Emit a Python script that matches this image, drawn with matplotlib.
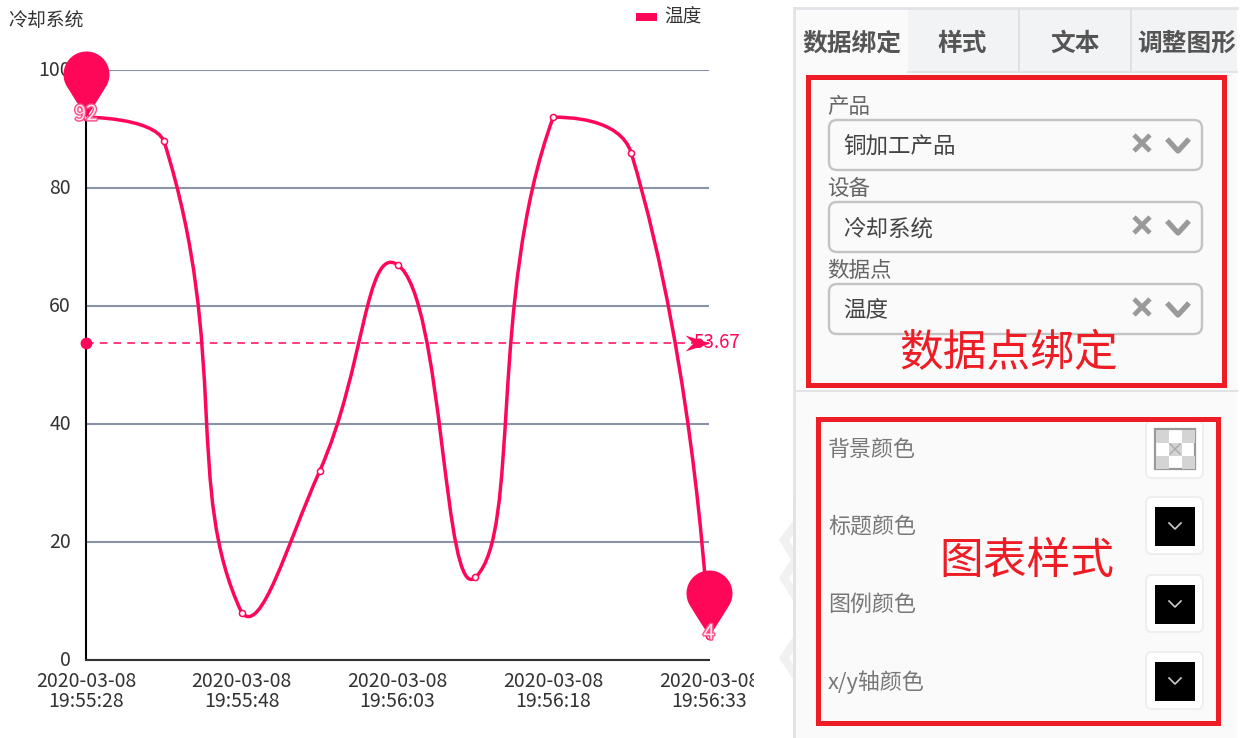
import numpy as np
import matplotlib

matplotlib.use("Agg")
import matplotlib.pyplot as plt
from matplotlib import patheffects as pe
from matplotlib.patches import FancyBboxPatch, PathPatch, Rectangle
from matplotlib.path import Path
from matplotlib.transforms import Bbox

plt.rcParams["font.family"] = ["Noto Sans CJK SC", "DejaVu Sans"]

# chart data
title = "冷却系统"
series_name = "温度"
values = [92, 88, 8, 32, 67, 14, 92, 86, 4]
tick_idx = [0, 2, 4, 6, 8]
tick_labels = ["2020-03-08\n19:55:28", "2020-03-08\n19:55:48", "2020-03-08\n19:56:03",
               "2020-03-08\n19:56:18", "2020-03-08\n19:56:33"]
y_ticks = [0, 20, 40, 60, 80, 100]

# side panel text
tabs = ["数据绑定", "样式", "文本", "调整图形"]
select_labels = ["产品", "设备", "数据点"]
select_values = ["铜加工产品", "冷却系统", "温度"]
style_labels = ["背景颜色", "标题颜色", "图例颜色", "x/y轴颜色"]

PINK = "#ff0759"
RED = "#ee1c25"
GRID = "#8a93a6"
DPI = 100
PX = 72 / DPI
PANEL_R = 1237


def smooth_path(ax, ys, smooth=0.5):
    # bezier smoothing in pixel space, same idea as echarts line smooth
    pts = ax.transData.transform(np.column_stack([np.arange(len(ys)), ys]))
    lo, hi = pts.min(axis=0), pts.max(axis=0)
    verts = [pts[0]]
    codes = [Path.MOVETO]
    out_cp = []
    in_cp = []
    for i, p in enumerate(pts):
        if i == 0 or i == len(pts) - 1:
            # end points pull the curve straight at themselves
            out_cp.append(p)
            in_cp.append(p)
            continue
        prev = pts[i - 1]
        nxt = pts[i + 1]
        v = nxt - prev
        d0 = np.linalg.norm(p - prev)
        d1 = np.linalg.norm(nxt - p)
        r = d1 / (d0 + d1)
        out_cp.append(np.clip(p + v * smooth * r, lo, hi))
        in_cp.append(np.clip(p - v * smooth * (1 - r), lo, hi))
    for i in range(len(pts) - 1):
        verts += [out_cp[i], in_cp[i + 1], pts[i + 1]]
        codes += [Path.CURVE4] * 3
    return Path(ax.transData.inverted().transform(np.array(verts)), codes)


def pin_marker(r=23, h=66):
    # tip at the origin, y up, sizes in pixels
    cy = h - r
    arc = Path.arc(-30, 210)
    v = arc.vertices * r + [0, cy]
    c = arc.codes.copy()
    verts = np.vstack([v, [[-r * 0.5, cy - r * 1.1]], [[0, 0]], [[r * 0.5, cy - r * 1.1]], [v[0]], [v[0]]])
    codes = np.concatenate([c, [Path.CURVE3, Path.CURVE3, Path.CURVE3, Path.CURVE3, Path.CLOSEPOLY]])
    return Path(verts, codes)


def round_box(ax, x0, y0, x1, y1, fc, ec, lw, rad=8, **kw):
    ax.add_patch(FancyBboxPatch((x0 + rad, y0 + rad), x1 - x0 - 2 * rad, y1 - y0 - 2 * rad,
                                boxstyle=f"round,pad={rad},rounding_size={rad}",
                                fc=fc, ec=ec, lw=lw * PX, **kw))


fig = plt.figure(figsize=(1243 / DPI, 738 / DPI), dpi=DPI, facecolor="white")

# full figure pixel axes for the settings panel
ui = fig.add_axes([0, 0, 1, 1], zorder=0)
ui.set_xlim(0, 1243)
ui.set_ylim(738, 0)
ui.axis("off")

ax = fig.add_axes([86 / 1243, 1 - 660 / 738, 623 / 1243, 590 / 738], zorder=2)
ax.patch.set_alpha(0)
ax.set_xlim(0, len(values) - 1)
ax.set_ylim(0, 100)
ax.set_yticks(y_ticks)
ax.set_xticks(tick_idx, tick_labels)
ax.tick_params(length=0, labelsize=14, labelcolor="#333333")
ax.tick_params(axis="y", pad=10.8)
ax.tick_params(axis="x", pad=8)
ax.grid(axis="y", color=GRID, lw=1.5)
ax.set_axisbelow(True)
for name in ["top", "right"]:
    ax.spines[name].set_visible(False)
ax.spines["left"].set_linewidth(1.5)
ax.spines["bottom"].set_linewidth(1.5)
ax.spines["bottom"].set_color("#333333")
for lab in ax.get_yticklabels():
    lab.set_va("center")
for lab in ax.get_xticklabels():
    lab.set_linespacing(0.95)
    lab.set_clip_box(Bbox.from_extents(0, 0, 754, 738))
    lab.set_clip_on(True)

x = np.arange(len(values))
mean = np.mean(values)

ax.add_patch(PathPatch(smooth_path(ax, values), fc="none", ec=PINK, lw=2.5, clip_on=False, zorder=3))
ax.plot(x, values, ls="none", marker="o", ms=4.4, mfc="white", mec=PINK, mew=1.1, clip_on=False, zorder=4)

# average line
ax.plot([0, x[-1]], [mean, mean], color=PINK, lw=1.1, ls=(0, (5, 4)), zorder=3)
ax.plot(0, mean, marker="o", ms=8.5, color=PINK, mew=0, clip_on=False, zorder=5)
arrow = Path([(1, 0), (-24, 8), (-16, 0), (-24, -8), (1, 0)],
             [Path.MOVETO, Path.LINETO, Path.LINETO, Path.LINETO, Path.CLOSEPOLY])
ax.plot(x[-1], mean, marker=arrow, ms=2 * 24 * PX, color=PINK, mew=0, clip_on=False, zorder=6)
ax.annotate(f"{mean:.2f}", (x[-1], mean), xytext=(-16 * PX, 1 * PX), textcoords="offset points",
            color=PINK, fontsize=13.5, va="center", ha="left", annotation_clip=False, zorder=5)

# max and min pins, white digits with a pink edge
for i in [int(np.argmax(values)), int(np.argmin(values))]:
    ax.plot(x[i], values[i], marker=pin_marker(), ms=2 * 66 * PX, color=PINK, mew=0, clip_on=False, zorder=7)
    ax.annotate(str(values[i]), (x[i], values[i]), xytext=(0, 3 * PX), textcoords="offset points",
                color="#ffe6ee", fontsize=15, ha="center", va="center", annotation_clip=False, zorder=8,
                path_effects=[pe.withStroke(linewidth=2, foreground="#ff4d85")])

# title and legend
ui.text(8, 20, title, fontsize=13.6, color="#333333", va="center", ha="left")
ui.add_patch(Rectangle((636, 13), 21, 8, fc=PINK, ec="none"))
ui.text(664, 18, series_name, fontsize=13.4, color="#333333", va="center", ha="left")

# settings panel background
ui.add_patch(Rectangle((795, 9), PANEL_R - 795, 729, fc="#fafafa", ec="none"))
ui.plot([794, 794], [8, 738], color="#e2e3e6", lw=2)
ui.plot([794, PANEL_R], [8, 8], color="#e2e3e6", lw=2)
ui.add_patch(Rectangle((908, 10), PANEL_R - 908, 61, fc="#f2f3f5", ec="none"))
ui.plot([908, PANEL_R], [71.5, 71.5], color="#e2e3e6", lw=1.4)
for sx in [1019, 1131]:
    ui.plot([sx, sx], [10, 71], color="#dfe0e3", lw=1.4)
ui.plot([795, PANEL_R], [391, 391], color="#e2e3e6", lw=1.4)
for label, cx in zip(tabs, [852, 962, 1075, 1187]):
    ui.text(cx, 44, label, fontsize=17.8, fontweight="bold", color="#555555", ha="center", va="center")

# background watermark pieces on the panel edge
ui.plot([796, 784, 796, 784, 796], [524, 540, 560, 578, 597], color="#f1f1f1", lw=6, solid_joinstyle="miter", zorder=0)
ui.plot([796, 784, 796], [640, 658, 676], color="#f1f1f1", lw=6, solid_joinstyle="miter", zorder=0)
ui.add_patch(Rectangle((795, 500), PANEL_R - 795, 238, fc="#fafafa", ec="none", zorder=0.5))
ui.plot([794, 794], [500, 738], color="#e2e3e6", lw=2, zorder=0.6)

# select boxes
for label, value, top in zip(select_labels, select_values, [120, 202, 284]):
    ui.text(827, top - 13, label, fontsize=15.5, color="#666666", va="center", ha="left")
    round_box(ui, 829, top, 1202, top + 50, "#fafafa", "#c4c4c4", 2.4)
    ui.text(843, top + 27, value, fontsize=16.2, color="#444444", va="center", ha="left")
    mid = top + 23
    for sign in [-1, 1]:
        ui.plot([1134, 1150], [mid - sign * 8, mid + sign * 8], color="#9a9a9a", lw=3.4, solid_capstyle="butt")
    ui.plot([1167, 1178, 1189], [mid - 4, mid + 8, mid - 4], color="#9a9a9a", lw=3.8, solid_capstyle="butt")

# style rows
for label, cy in zip(style_labels, [450, 527, 605, 682]):
    ui.text(828, cy, label, fontsize=15.8, color="#777777", va="center", ha="left", zorder=2)
for i, top in enumerate([421, 497, 575, 652]):
    round_box(ui, 1146, top, 1203, top + 57, "white", "#eeeeee", 2, rad=6, zorder=2)
    if i == 0:
        ui.add_patch(Rectangle((1155, 429), 40, 40, fc="white", ec="#999999", lw=1.6, zorder=2))
        for r in range(3):
            for c in range(3):
                if (r + c) % 2 == 0:
                    ui.add_patch(Rectangle((1156 + c * 13, 430 + r * 13), 12.7, 12.7, fc="#d4d4d4", ec="none", zorder=2))
        ui.plot([1170, 1180], [444, 454], color="#aaaaaa", lw=1, zorder=2)
        ui.plot([1170, 1180], [454, 444], color="#aaaaaa", lw=1, zorder=2)
    else:
        ui.add_patch(Rectangle((1155, top + 10), 40, 39, fc="black", ec="none", zorder=2))
        cy = top + 29
        ui.plot([1169, 1175, 1181], [cy - 3, cy + 3, cy - 3], color="#cccccc", lw=1.2, zorder=2)

# red annotation boxes
ui.add_patch(Rectangle((808, 77), 416, 308, fc="none", ec=RED, lw=5 * PX, zorder=3))
ui.add_patch(Rectangle((818, 419), 400, 304, fc="none", ec=RED, lw=5 * PX, zorder=3))
ui.text(1008.5, 353, "数据点绑定", fontsize=31.5, color=RED, ha="center", va="center", fontweight="light", zorder=4)
ui.text(1026.5, 561, "图表样式", fontsize=31.5, color=RED, ha="center", va="center", fontweight="light", zorder=4)

fig.savefig("out.png", dpi=DPI)
